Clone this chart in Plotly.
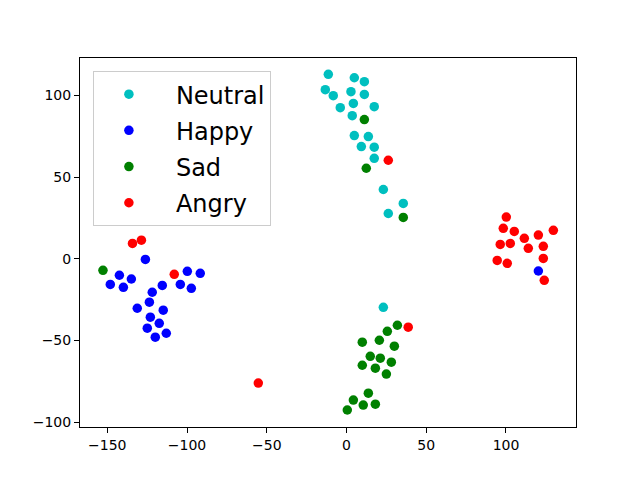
import plotly.graph_objects as go

neutral_x = [-11.4, 4.9, 11.2, -13.3, -8.3, 2.8, 11.2, 4.3, -3.9, 17.4, 3.6, 4.9, 13.7, 9.3, 17.4, 17.4, 23.1, 35.6, 26.2, 23.1]
neutral_y = [112.9, 110.8, 108.4, 103.5, 99.8, 102.3, 100.6, 95.1, 92.5, 93.1, 87.6, 75.4, 74.8, 68.7, 68.3, 61.5, 42.4, 33.9, 27.7, -29.7]

happy_x = [-126.1, -142.4, -134.9, -148.1, -139.9, -99.8, -91.7, -104.2, -97.3, -115.5, -121.8, -123.6, -131.2, -114.9, -123.0, -117.4, -124.9, -113.0, -119.9, 120.3]
happy_y = [-0.4, -10.1, -12.4, -15.7, -17.5, -7.7, -8.9, -15.7, -18.1, -16.3, -20.5, -26.6, -30.3, -31.5, -35.8, -39.5, -42.5, -45.6, -48.0, -7.5]

sad_x = [11.2, 12.4, 35.6, -152.7, 31.9, 25.6, 9.9, 20.6, 30.0, 14.9, 21.2, 28.1, 9.9, 18.1, 25.0, 13.7, 4.3, 10.5, 18.1, 0.5]
sad_y = [85.2, 55.4, 25.3, -7.1, -40.7, -44.4, -51.1, -49.9, -53.5, -59.7, -60.9, -63.3, -65.2, -67.0, -70.6, -82.3, -86.5, -89.6, -89.0, -92.6]

angry_x = [-134.2, -128.6, -108.0, -55.3, 26.2, 38.7, 100.2, 98.3, 105.2, 129.7, 111.5, 120.3, 96.4, 102.7, 114.0, 123.4, 94.5, 100.8, 123.4, 124.0]
angry_y = [9.4, 11.4, -9.5, -76.1, 60.3, -41.9, 25.5, 18.6, 16.7, 17.4, 12.5, 14.5, 8.8, 9.4, 6.4, 7.6, -1.0, -2.8, 0.2, -13.2]

labels = ["Neutral", "Happy", "Sad", "Angry"]
colors = ["#00bfbf", "#0000ff", "#008000", "#ff0000"]
xs_all = [neutral_x, happy_x, sad_x, angry_x]
ys_all = [neutral_y, happy_y, sad_y, angry_y]

fig = go.Figure()
for name, xs, ys, col in zip(labels, xs_all, ys_all, colors):
    fig.add_trace(go.Scatter(
        x=xs, y=ys, mode="markers", name="\u2002" + name, legendgroup=name,
        marker=dict(size=9.5, color=col, line=dict(width=0)),
    ))

axis_common = dict(
    showgrid=False, zeroline=False, showline=True, linecolor="black", linewidth=1,
    mirror=True, ticks="outside", ticklen=5, tickcolor="black",
    tickfont=dict(family="DejaVu Sans", size=14, color="black"),
)
fig.update_layout(
    width=624, height=464,
    margin=dict(l=72, r=56, t=49.6, b=44.8),
    paper_bgcolor="white", plot_bgcolor="white",
    xaxis=dict(range=[-167.1, 143.9], tickvals=[-150, -100, -50, 0, 50, 100], **axis_common),
    yaxis=dict(range=[-103.0, 122.9], tickvals=[-100, -50, 0, 50, 100], **axis_common),
    legend=dict(
        x=0.026, y=0.9646, xanchor="left", yanchor="top",
        font=dict(family="DejaVu Sans", size=24, color="black"),
        bgcolor="rgba(255,255,255,0.8)", bordercolor="#cccccc", borderwidth=1,
        traceorder="grouped", tracegroupgap=2, itemsizing="trace", itemwidth=60,
    ),
    showlegend=True,
)
fig.write_html("out.html")
